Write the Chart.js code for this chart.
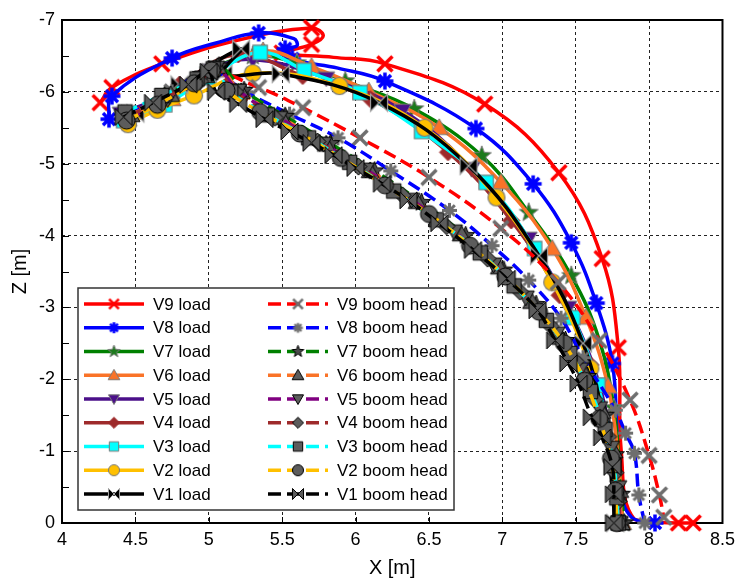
<!DOCTYPE html>
<html>
<head>
<meta charset="utf-8">
<script src="https://cdn.jsdelivr.net/npm/chart.js@4.4.1/dist/chart.umd.min.js"></script>
<style>
  html, body { margin: 0; padding: 0; background: #fff; }
</style>
</head>
<body>
<canvas id="trajectory" width="741" height="580"></canvas>
<script>
// axis ticks
const xTicks = [4, 4.5, 5, 5.5, 6, 6.5, 7, 7.5, 8, 8.5];
const zTicks = [-7, -6.5, -6, -5.5, -5, -4.5, -4, -3.5, -3, -2.5, -2, -1.5, -1, -0.5, 0];

// load paths (X [m], Z [m])
const v9LoadX = [4.26, 4.34, 4.68, 5.2, 5.70, 5.78, 5.70, 5.5, 5.85, 6.2, 6.88, 7.385, 7.68, 7.79, 7.81, 7.9, 8.2, 8.3];
const v9LoadZ = [-5.85, -6.06, -6.39, -6.72, -6.89, -6.78, -6.66, -6.54, -6.48, -6.39, -5.83, -4.875, -3.68, -2.44, -1.0, -0.05, 0, 0];
const v8LoadX = [4.32, 4.34, 4.75, 5.05, 5.34, 5.58, 5.60, 5.52, 5.57, 5.88, 6.2, 6.82, 7.21, 7.47, 7.64, 7.75, 7.78, 7.8, 7.88, 8.04];
const v8LoadZ = [-5.62, -5.94, -6.47, -6.68, -6.82, -6.74, -6.64, -6.6, -6.46, -6.33, -6.15, -5.49, -4.72, -3.9, -3.06, -2.22, -1.3, -0.5, -0.08, 0];
const v7LoadX = [4.42, 4.7, 5.0, 5.3, 5.6, 5.93, 6.4, 6.86, 7.18, 7.47, 7.66, 7.76, 7.8, 7.82];
const v7LoadZ = [-5.68, -5.95, -6.3, -6.5, -6.4, -6.15, -5.76, -5.11, -4.32, -3.44, -2.55, -1.6, -0.7, 0];
const v6LoadX = [4.45, 4.75, 5.05, 5.37, 5.7, 6.09, 6.57, 6.99, 7.34, 7.57, 7.72, 7.79, 7.82];
const v6LoadZ = [-5.62, -5.9, -6.3, -6.57, -6.35, -6.01, -5.5, -4.74, -3.82, -2.86, -1.9, -0.9, 0];
const v5LoadX = [4.4, 4.7, 5.0, 5.3, 5.8, 6.32, 6.79, 7.18, 7.45, 7.65, 7.75, 7.8];
const v5LoadZ = [-5.7, -5.95, -6.3, -6.45, -6.19, -5.74, -4.93, -3.96, -3.0, -2.0, -1.0, 0];
const v4LoadX = [4.45, 4.8, 5.2, 5.64, 6.1, 6.63, 7.06, 7.39, 7.6, 7.73, 7.79];
const v4LoadZ = [-5.65, -6.1, -6.52, -6.22, -5.9, -5.16, -4.21, -3.17, -2.2, -1.1, 0];
const v3LoadX = [4.42, 4.7, 5.0, 5.35, 5.65, 6.03, 6.45, 6.89, 7.22, 7.48, 7.65, 7.75, 7.79];
const v3LoadZ = [-5.6, -5.82, -6.2, -6.55, -6.3, -5.99, -5.45, -4.74, -3.82, -2.86, -1.92, -0.95, 0];
const v2LoadX = [4.45, 4.65, 4.9, 5.3, 5.89, 6.47, 6.96, 7.34, 7.6, 7.72, 7.78];
const v2LoadZ = [-5.55, -5.75, -5.95, -6.26, -6.08, -5.5, -4.53, -3.35, -2.15, -1.1, 0];
const v1LoadX = [4.5, 4.8, 5.22, 5.1, 5.49, 6.16, 6.77, 7.25, 7.55, 7.7, 7.77];
const v1LoadZ = [-5.7, -6.1, -6.6, -6.25, -6.25, -5.85, -4.97, -3.72, -2.5, -1.3, 0];

// boom head paths (X [m], Z [m])
const v9HeadX = [4.45, 4.75, 5.0, 5.34, 5.64, 6.03, 6.5, 6.99, 7.38, 7.66, 7.87, 8.0, 8.07, 8.1];
const v9HeadZ = [-5.7, -6.0, -6.28, -6.06, -5.78, -5.36, -4.81, -4.1, -3.35, -2.54, -1.71, -0.94, -0.39, -0.08];
const v8HeadX = [4.45, 4.75, 5.0, 5.25, 5.55, 5.88, 6.24, 6.64, 6.93, 7.18, 7.4, 7.55, 7.77, 7.84, 7.9, 7.93, 7.97];
const v8HeadZ = [-5.68, -6.0, -6.3, -6.0, -5.69, -5.36, -4.9, -4.35, -3.86, -3.38, -2.85, -2.3, -1.57, -1.25, -0.97, -0.39, 0];
const v7HeadX = [4.44, 4.7, 4.95, 5.07, 5.24, 5.52, 5.83, 6.13, 6.45, 6.75, 7.01, 7.23, 7.43, 7.58, 7.7, 7.77, 7.81, 7.83];
const v7HeadZ = [-5.64, -5.94, -6.24, -6.36, -6.02, -5.66, -5.28, -4.9, -4.46, -4.0, -3.52, -3.04, -2.54, -2.04, -1.5, -0.95, -0.4, 0];
const v6HeadX = [4.47, 4.74, 4.98, 5.06, 5.22, 5.5, 5.8, 6.1, 6.42, 6.72, 6.98, 7.2, 7.4, 7.56, 7.68, 7.76, 7.8, 7.81];
const v6HeadZ = [-5.68, -5.96, -6.22, -6.35, -6.0, -5.64, -5.27, -4.9, -4.47, -4.02, -3.56, -3.08, -2.58, -2.08, -1.55, -1.0, -0.45, 0];
const v5HeadX = [4.45, 4.72, 4.96, 5.05, 5.2, 5.48, 5.78, 6.07, 6.38, 6.67, 6.94, 7.16, 7.37, 7.53, 7.66, 7.74, 7.79, 7.8];
const v5HeadZ = [-5.62, -5.9, -6.2, -6.34, -6.02, -5.64, -5.28, -4.92, -4.5, -4.06, -3.6, -3.14, -2.64, -2.14, -1.6, -1.05, -0.5, 0];
const v4HeadX = [4.46, 4.7, 4.94, 5.04, 5.18, 5.45, 5.74, 6.02, 6.32, 6.62, 6.9, 7.12, 7.33, 7.5, 7.63, 7.72, 7.77, 7.79, 7.8];
const v4HeadZ = [-5.66, -5.92, -6.15, -6.33, -6.0, -5.64, -5.31, -4.96, -4.56, -4.13, -3.68, -3.22, -2.74, -2.25, -1.72, -1.2, -0.7, -0.3, 0];
const v3HeadX = [4.43, 4.68, 4.92, 5.03, 5.15, 5.4, 5.68, 5.96, 6.26, 6.55, 6.85, 7.08, 7.3, 7.46, 7.6, 7.7, 7.76, 7.78, 7.79];
const v3HeadZ = [-5.72, -5.95, -6.18, -6.32, -6.0, -5.68, -5.36, -5.02, -4.62, -4.22, -3.76, -3.3, -2.82, -2.36, -1.83, -1.3, -0.8, -0.35, 0];
const v2HeadX = [4.44, 4.65, 4.9, 5.02, 5.12, 5.35, 5.62, 5.9, 6.2, 6.5, 6.78, 7.02, 7.25, 7.42, 7.56, 7.66, 7.74, 7.77, 7.78];
const v2HeadZ = [-5.6, -5.82, -6.12, -6.3, -6.02, -5.72, -5.42, -5.08, -4.7, -4.3, -3.86, -3.43, -2.94, -2.5, -1.98, -1.45, -0.9, -0.45, 0];
const v1HeadX = [4.42, 4.62, 4.86, 5.0, 5.05, 5.2, 5.38, 5.55, 5.7, 5.85, 6.0, 6.18, 6.36, 6.57, 6.8, 7.03, 7.24, 7.36, 7.45, 7.52, 7.61, 7.68, 7.75, 7.76, 7.76];
const v1HeadZ = [-5.65, -5.85, -6.1, -6.28, -6.0, -5.83, -5.62, -5.45, -5.29, -5.12, -4.94, -4.72, -4.49, -4.17, -3.8, -3.4, -2.96, -2.54, -2.22, -1.94, -1.47, -1.19, -0.78, -0.4, 0];

const FONT = '"Liberation Sans", Arial, sans-serif';
const GREY = '#5c5c5c';

// draw a marker glyph into a small canvas, used as pointStyle
function marker(shape, fill, stroke, size, lw) {
  const s = Math.ceil(size + lw * 2 + 2);
  const c = document.createElement('canvas');
  c.width = c.height = s;
  const g = c.getContext('2d');
  g.translate(s / 2, s / 2);
  const r = size / 2;
  g.fillStyle = fill;
  g.strokeStyle = stroke;
  g.lineWidth = lw;
  g.lineJoin = 'miter';
  g.beginPath();
  if (shape === 'x') {
    g.moveTo(-r, -r); g.lineTo(r, r); g.moveTo(r, -r); g.lineTo(-r, r);
    g.stroke();
    return c;
  }
  if (shape === 'ast') {
    for (let i = 0; i < 4; i++) {
      const a = i * Math.PI / 4;
      g.moveTo(-r * Math.cos(a), -r * Math.sin(a));
      g.lineTo(r * Math.cos(a), r * Math.sin(a));
    }
    g.stroke();
    return c;
  }
  if (shape === 'star') {
    for (let i = 0; i < 10; i++) {
      const a = -Math.PI / 2 + i * Math.PI / 5;
      const rr = i % 2 ? r * 0.42 : r;
      g.lineTo(rr * Math.cos(a), rr * Math.sin(a));
    }
  } else if (shape === 'tri') {
    g.moveTo(0, -r); g.lineTo(r, r * 0.75); g.lineTo(-r, r * 0.75);
  } else if (shape === 'tridown') {
    g.moveTo(0, r); g.lineTo(r, -r * 0.75); g.lineTo(-r, -r * 0.75);
  } else if (shape === 'dia') {
    g.moveTo(0, -r); g.lineTo(r, 0); g.lineTo(0, r); g.lineTo(-r, 0);
  } else if (shape === 'sq') {
    g.rect(-r * 0.85, -r * 0.85, r * 1.7, r * 1.7);
  } else if (shape === 'circ') {
    g.arc(0, 0, r, 0, Math.PI * 2);
  } else if (shape === 'bow') {
    g.moveTo(-r, -r); g.lineTo(0, 0); g.lineTo(-r, r); g.closePath();
    g.moveTo(r, -r); g.lineTo(0, 0); g.lineTo(r, r);
  }
  g.closePath();
  g.fill();
  g.stroke();
  return c;
}

const loads = [
  { label: 'V9 load', x: v9LoadX, z: v9LoadZ, color: '#ff0000', m: ['x', '#ff0000', '#ff0000', 15, 3.5], hide: [3, 5, 8, 14, 15] },
  { label: 'V8 load', x: v8LoadX, z: v8LoadZ, color: '#0000ff', m: ['ast', '#0000ff', '#0000ff', 17, 3.5], hide: [3, 5, 6, 9, 16, 17, 18] },
  { label: 'V7 load', x: v7LoadX, z: v7LoadZ, color: '#008000', m: ['star', '#1c7a1c', '#7a7a7a', 20, 1], hide: [10, 12] },
  { label: 'V6 load', x: v6LoadX, z: v6LoadZ, color: '#fa7328', m: ['tri', '#fa7328', '#7a7a7a', 18, 1], hide: [11] },
  { label: 'V5 load', x: v5LoadX, z: v5LoadZ, color: '#4b108a', m: ['tridown', '#4b108a', '#7a7a7a', 17, 1], hide: [9, 10] },
  { label: 'V4 load', x: v4LoadX, z: v4LoadZ, color: '#9e2a2b', m: ['dia', '#9e2a2b', '#9e2a2b', 17, 1], hide: [9] },
  { label: 'V3 load', x: v3LoadX, z: v3LoadZ, color: '#00ffff', m: ['sq', '#00ffff', '#7a7a7a', 17, 1.2], hide: [11] },
  { label: 'V2 load', x: v2LoadX, z: v2LoadZ, color: '#ffc000', m: ['circ', '#ffc000', '#7a7a7a', 17, 1.2], hide: [9] },
  { label: 'V1 load', x: v1LoadX, z: v1LoadZ, color: '#000000', m: ['bow', '#000000', '#a0a0a0', 17, 1.2], hide: [9] }
];
const heads = [
  { label: 'V9 boom head', x: v9HeadX, z: v9HeadZ, color: '#ff0000', m: ['x', GREY, '#6e6e6e', 15, 3.5] },
  { label: 'V8 boom head', x: v8HeadX, z: v8HeadZ, color: '#0000ff', m: ['ast', GREY, '#6e6e6e', 15, 3] },
  { label: 'V7 boom head', x: v7HeadX, z: v7HeadZ, color: '#008000', m: ['star', '#4a4a4a', '#000', 19, 1] },
  { label: 'V6 boom head', x: v6HeadX, z: v6HeadZ, color: '#fa7328', m: ['tri', GREY, '#000', 18, 1] },
  { label: 'V5 boom head', x: v5HeadX, z: v5HeadZ, color: '#800080', m: ['tridown', GREY, '#000', 17, 1] },
  { label: 'V4 boom head', x: v4HeadX, z: v4HeadZ, color: '#9e2a2b', m: ['dia', GREY, '#000', 17, 1] },
  { label: 'V3 boom head', x: v3HeadX, z: v3HeadZ, color: '#00ffff', m: ['sq', GREY, '#000', 17, 1] },
  { label: 'V2 boom head', x: v2HeadX, z: v2HeadZ, color: '#ffc000', m: ['circ', GREY, '#000', 17, 1] },
  { label: 'V1 boom head', x: v1HeadX, z: v1HeadZ, color: '#000000', m: ['bow', GREY, '#000', 17, 1] }
];

function makeSet(s, dashed, order) {
  const hide = s.hide || [];
  const [shape, fill, stroke, size, lw] = s.m;
  return {
    label: s.label,
    data: s.x.map((v, i) => ({ x: v, y: s.z[i] })),
    showLine: true,
    tension: 0.4,
    borderColor: s.color,
    backgroundColor: s.color,
    borderWidth: 3.5,
    borderDash: dashed ? [13, 6] : [],
    pointStyle: marker(shape, fill, stroke, size, lw),
    legendMarker: marker(shape, fill, stroke, size * 0.65, Math.max(1, lw * 0.75)),
    pointRadius: ctx => hide.includes(ctx.dataIndex) ? 0 : 6,
    clip: 12,
    order: order
  };
}

const datasets = [
  ...loads.map((s, i) => makeSet(s, false, 40 - i)),
  ...heads.map((s, i) => makeSet(s, true, 20 - i))
];

// frame + inward tick marks
const framePlugin = {
  id: 'framePlugin',
  beforeDatasetsDraw(chart) {
    const { ctx, chartArea: a, scales: { x, y } } = chart;
    ctx.save();
    ctx.strokeStyle = '#000';
    ctx.lineWidth = 1;
    ctx.beginPath();
    xTicks.forEach(v => {
      const px = Math.round(x.getPixelForValue(v)) + 0.5;
      ctx.moveTo(px, a.bottom); ctx.lineTo(px, a.bottom - 6);
    });
    zTicks.forEach(v => {
      const py = Math.round(y.getPixelForValue(v)) + 0.5;
      ctx.moveTo(a.left, py); ctx.lineTo(a.left + 7, py);
    });
    ctx.stroke();
    ctx.lineWidth = 2;
    ctx.strokeRect(a.left, a.top, a.right - a.left, a.bottom - a.top);
    ctx.restore();
  }
};

// two-column legend boxed inside the plot
const legendPlugin = {
  id: 'legendPlugin',
  afterDatasetsDraw(chart) {
    const { ctx, chartArea: a } = chart;
    const left = a.left + 16, top = a.top + 268, w = 376, h = 222, rowH = 23.75;
    ctx.save();
    ctx.fillStyle = '#fff';
    ctx.fillRect(left, top, w, h);
    ctx.strokeStyle = '#333';
    ctx.lineWidth = 1.5;
    ctx.strokeRect(left, top, w, h);
    const ds = chart.data.datasets;
    const cols = [6, 190];
    for (let i = 0; i < 9; i++) {
      const y = top + 16 + i * rowH;
      [ds[i], ds[i + 9]].forEach((d, c) => {
        const x0 = left + cols[c];
        ctx.strokeStyle = d.borderColor;
        ctx.lineWidth = 3.5;
        ctx.setLineDash(d.borderDash);
        ctx.beginPath();
        ctx.moveTo(x0, y);
        ctx.lineTo(x0 + 60, y);
        ctx.stroke();
        ctx.setLineDash([]);
        const mk = d.legendMarker;
        ctx.drawImage(mk, x0 + 30 - mk.width / 2, y - mk.height / 2);
        ctx.fillStyle = '#000';
        ctx.font = '17px ' + FONT;
        ctx.textBaseline = 'middle';
        ctx.fillText(d.label, x0 + 69, y + 1);
      });
    }
    ctx.restore();
  }
};

const gridColor = '#222';
new Chart(document.getElementById('trajectory'), {
  type: 'scatter',
  data: { datasets },
  plugins: [framePlugin, legendPlugin],
  options: {
    responsive: false,
    animation: false,
    events: [],
    layout: { padding: { top: 20, right: 13, left: 0, bottom: 0 } },
    plugins: { legend: { display: false }, tooltip: { enabled: false } },
    scales: {
      x: {
        type: 'linear',
        min: 4,
        max: 8.5,
        afterBuildTicks: s => { s.ticks = xTicks.map(v => ({ value: v })); },
        afterFit: s => { s.height = 57; },
        grid: {
          drawTicks: false,
          lineWidth: 1,
          color: c => (c.tick && (c.tick.value === 4 || c.tick.value === 8.5)) ? 'rgba(0,0,0,0)' : gridColor
        },
        border: { display: false, dash: [3, 3] },
        ticks: {
          padding: 6,
          color: '#000',
          font: { family: FONT, size: 18 },
          callback: v => String(v)
        },
        title: { display: true, text: 'X [m]', color: '#000', padding: { top: 0, bottom: 0 }, font: { family: FONT, size: 20 } }
      },
      y: {
        type: 'linear',
        min: -7,
        max: 0,
        reverse: true,
        afterBuildTicks: s => { s.ticks = zTicks.map(v => ({ value: v })); },
        afterFit: s => { s.width = 62; },
        grid: {
          drawTicks: false,
          lineWidth: 1,
          color: c => (c.tick && Number.isInteger(c.tick.value) && c.tick.value !== -7 && c.tick.value !== 0) ? gridColor : 'rgba(0,0,0,0)'
        },
        border: { display: false, dash: [3, 3] },
        ticks: {
          padding: 7,
          color: '#000',
          font: { family: FONT, size: 18 },
          callback: v => Number.isInteger(v) ? String(v) : ''
        },
        title: { display: true, text: 'Z [m]', color: '#000', padding: { top: 8, bottom: 0 }, font: { family: FONT, size: 20 } }
      }
    }
  }
});
</script>
</body>
</html>
